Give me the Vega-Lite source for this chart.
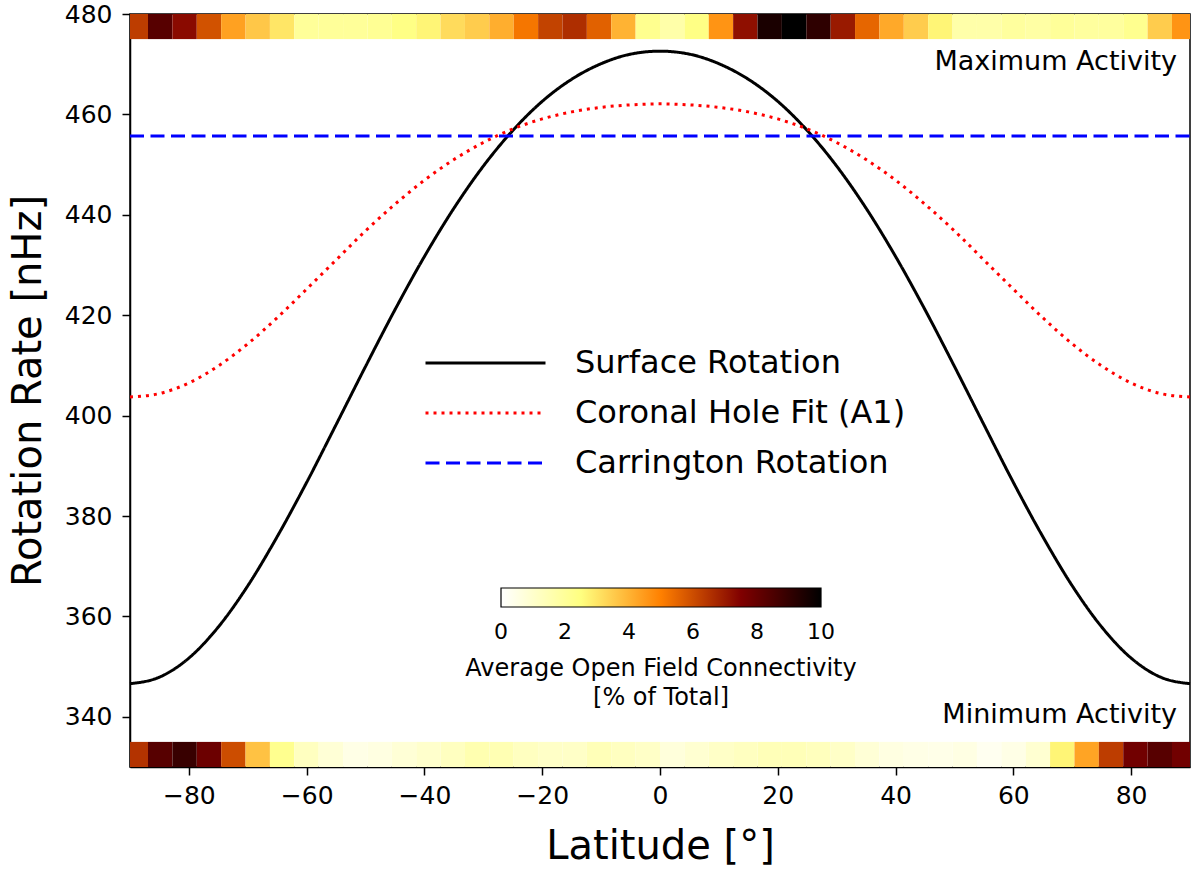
{
  "$schema": "https://vega.github.io/schema/vega-lite/v6.json",
  "description": "Solar rotation rate vs latitude with open field connectivity strips at maximum and minimum activity.",
  "width": 1060,
  "height": 753,
  "autosize": {"type": "none"},
  "padding": {"left": 130, "top": 14, "right": 10, "bottom": 103},
  "background": "white",
  "config": {
    "font": "DejaVu Sans",
    "view": {"stroke": "black", "strokeWidth": 1.5},
    "axis": {
      "grid": false,
      "domainColor": "black",
      "domainWidth": 1.5,
      "tickColor": "black",
      "tickWidth": 1.5,
      "tickSize": 8,
      "labelColor": "black",
      "labelFontSize": 25,
      "titleColor": "black",
      "titleFontSize": 40,
      "titleFontWeight": "normal"
    },
    "legend": {"labelColor": "black", "titleColor": "black"}
  },
  "datasets": {
    "strips": [
      {"activity": "max", "lat0": -90, "lat1": -86.94, "v": 6.3},
      {"activity": "max", "lat0": -86.94, "lat1": -82.8, "v": 8.3},
      {"activity": "max", "lat0": -82.8, "lat1": -78.66, "v": 7.3},
      {"activity": "max", "lat0": -78.66, "lat1": -74.52, "v": 5.9},
      {"activity": "max", "lat0": -74.52, "lat1": -70.38, "v": 4.35},
      {"activity": "max", "lat0": -70.38, "lat1": -66.24, "v": 3.6},
      {"activity": "max", "lat0": -66.24, "lat1": -62.1, "v": 3.0},
      {"activity": "max", "lat0": -62.1, "lat1": -57.96, "v": 2.0},
      {"activity": "max", "lat0": -57.96, "lat1": -53.82, "v": 2.0},
      {"activity": "max", "lat0": -53.82, "lat1": -49.68, "v": 2.0},
      {"activity": "max", "lat0": -49.68, "lat1": -45.54, "v": 2.1},
      {"activity": "max", "lat0": -45.54, "lat1": -41.4, "v": 2.4},
      {"activity": "max", "lat0": -41.4, "lat1": -37.26, "v": 2.7},
      {"activity": "max", "lat0": -37.26, "lat1": -33.12, "v": 3.2},
      {"activity": "max", "lat0": -33.12, "lat1": -28.98, "v": 3.5},
      {"activity": "max", "lat0": -28.98, "lat1": -24.84, "v": 4.1},
      {"activity": "max", "lat0": -24.84, "lat1": -20.7, "v": 5.2},
      {"activity": "max", "lat0": -20.7, "lat1": -16.56, "v": 6.2},
      {"activity": "max", "lat0": -16.56, "lat1": -12.42, "v": 6.6},
      {"activity": "max", "lat0": -12.42, "lat1": -8.28, "v": 5.6},
      {"activity": "max", "lat0": -8.28, "lat1": -4.14, "v": 4.0},
      {"activity": "max", "lat0": -4.14, "lat1": 0, "v": 2.2},
      {"activity": "max", "lat0": 0, "lat1": 4.14, "v": 1.7},
      {"activity": "max", "lat0": 4.14, "lat1": 8.28, "v": 2.4},
      {"activity": "max", "lat0": 8.28, "lat1": 12.42, "v": 4.6},
      {"activity": "max", "lat0": 12.42, "lat1": 16.56, "v": 7.2},
      {"activity": "max", "lat0": 16.56, "lat1": 20.7, "v": 9.5},
      {"activity": "max", "lat0": 20.7, "lat1": 24.84, "v": 10},
      {"activity": "max", "lat0": 24.84, "lat1": 28.98, "v": 9.1},
      {"activity": "max", "lat0": 28.98, "lat1": 33.12, "v": 7.0},
      {"activity": "max", "lat0": 33.12, "lat1": 37.26, "v": 5.5},
      {"activity": "max", "lat0": 37.26, "lat1": 41.4, "v": 4.2},
      {"activity": "max", "lat0": 41.4, "lat1": 45.54, "v": 3.5},
      {"activity": "max", "lat0": 45.54, "lat1": 49.68, "v": 2.7},
      {"activity": "max", "lat0": 49.68, "lat1": 53.82, "v": 1.7},
      {"activity": "max", "lat0": 53.82, "lat1": 57.96, "v": 1.7},
      {"activity": "max", "lat0": 57.96, "lat1": 62.1, "v": 1.9},
      {"activity": "max", "lat0": 62.1, "lat1": 66.24, "v": 1.8},
      {"activity": "max", "lat0": 66.24, "lat1": 70.38, "v": 2.0},
      {"activity": "max", "lat0": 70.38, "lat1": 74.52, "v": 1.9},
      {"activity": "max", "lat0": 74.52, "lat1": 78.66, "v": 1.9},
      {"activity": "max", "lat0": 78.66, "lat1": 82.8, "v": 2.2},
      {"activity": "max", "lat0": 82.8, "lat1": 86.94, "v": 3.5},
      {"activity": "max", "lat0": 86.94, "lat1": 90, "v": 4.6},
      {"activity": "min", "lat0": -90, "lat1": -86.94, "v": 6.5},
      {"activity": "min", "lat0": -86.94, "lat1": -82.8, "v": 8.3},
      {"activity": "min", "lat0": -82.8, "lat1": -78.66, "v": 8.9},
      {"activity": "min", "lat0": -78.66, "lat1": -74.52, "v": 7.9},
      {"activity": "min", "lat0": -74.52, "lat1": -70.38, "v": 6.0},
      {"activity": "min", "lat0": -70.38, "lat1": -66.24, "v": 3.7},
      {"activity": "min", "lat0": -66.24, "lat1": -62.1, "v": 2.2},
      {"activity": "min", "lat0": -62.1, "lat1": -57.96, "v": 1.25},
      {"activity": "min", "lat0": -57.96, "lat1": -53.82, "v": 0.8},
      {"activity": "min", "lat0": -53.82, "lat1": -49.68, "v": 0.5},
      {"activity": "min", "lat0": -49.68, "lat1": -45.54, "v": 0.6},
      {"activity": "min", "lat0": -45.54, "lat1": -41.4, "v": 0.8},
      {"activity": "min", "lat0": -41.4, "lat1": -37.26, "v": 1.0},
      {"activity": "min", "lat0": -37.26, "lat1": -33.12, "v": 1.25},
      {"activity": "min", "lat0": -33.12, "lat1": -28.98, "v": 1.55},
      {"activity": "min", "lat0": -28.98, "lat1": -24.84, "v": 1.5},
      {"activity": "min", "lat0": -24.84, "lat1": -20.7, "v": 1.25},
      {"activity": "min", "lat0": -20.7, "lat1": -16.56, "v": 1.1},
      {"activity": "min", "lat0": -16.56, "lat1": -12.42, "v": 1.1},
      {"activity": "min", "lat0": -12.42, "lat1": -8.28, "v": 1.4},
      {"activity": "min", "lat0": -8.28, "lat1": -4.14, "v": 1.25},
      {"activity": "min", "lat0": -4.14, "lat1": 0, "v": 1.1},
      {"activity": "min", "lat0": 0, "lat1": 4.14, "v": 0.7},
      {"activity": "min", "lat0": 4.14, "lat1": 8.28, "v": 0.9},
      {"activity": "min", "lat0": 8.28, "lat1": 12.42, "v": 1.1},
      {"activity": "min", "lat0": 12.42, "lat1": 16.56, "v": 1.25},
      {"activity": "min", "lat0": 16.56, "lat1": 20.7, "v": 1.4},
      {"activity": "min", "lat0": 20.7, "lat1": 24.84, "v": 1.4},
      {"activity": "min", "lat0": 24.84, "lat1": 28.98, "v": 1.3},
      {"activity": "min", "lat0": 28.98, "lat1": 33.12, "v": 1.1},
      {"activity": "min", "lat0": 33.12, "lat1": 37.26, "v": 0.8},
      {"activity": "min", "lat0": 37.26, "lat1": 41.4, "v": 0.6},
      {"activity": "min", "lat0": 41.4, "lat1": 45.54, "v": 0.5},
      {"activity": "min", "lat0": 45.54, "lat1": 49.68, "v": 0.45},
      {"activity": "min", "lat0": 49.68, "lat1": 53.82, "v": 0.55},
      {"activity": "min", "lat0": 53.82, "lat1": 57.96, "v": 0.3},
      {"activity": "min", "lat0": 57.96, "lat1": 62.1, "v": 0.5},
      {"activity": "min", "lat0": 62.1, "lat1": 66.24, "v": 0.9},
      {"activity": "min", "lat0": 66.24, "lat1": 70.38, "v": 2.7},
      {"activity": "min", "lat0": 70.38, "lat1": 74.52, "v": 4.3},
      {"activity": "min", "lat0": 74.52, "lat1": 78.66, "v": 6.3},
      {"activity": "min", "lat0": 78.66, "lat1": 82.8, "v": 7.8},
      {"activity": "min", "lat0": 82.8, "lat1": 86.94, "v": 8.3},
      {"activity": "min", "lat0": 86.94, "lat1": 90, "v": 7.8}
    ],
    "curves": [
      {"series": "Surface Rotation", "lat": -90, "rate": 346.6},
      {"series": "Surface Rotation", "lat": -85, "rate": 347.9},
      {"series": "Surface Rotation", "lat": -80, "rate": 351.7},
      {"series": "Surface Rotation", "lat": -75, "rate": 357.9},
      {"series": "Surface Rotation", "lat": -70, "rate": 366.1},
      {"series": "Surface Rotation", "lat": -65, "rate": 375.9},
      {"series": "Surface Rotation", "lat": -60, "rate": 386.7},
      {"series": "Surface Rotation", "lat": -55, "rate": 398.2},
      {"series": "Surface Rotation", "lat": -50, "rate": 409.8},
      {"series": "Surface Rotation", "lat": -45, "rate": 421.1},
      {"series": "Surface Rotation", "lat": -40, "rate": 431.7},
      {"series": "Surface Rotation", "lat": -35, "rate": 441.3},
      {"series": "Surface Rotation", "lat": -30, "rate": 449.7},
      {"series": "Surface Rotation", "lat": -25, "rate": 456.8},
      {"series": "Surface Rotation", "lat": -20, "rate": 462.6},
      {"series": "Surface Rotation", "lat": -15, "rate": 467.0},
      {"series": "Surface Rotation", "lat": -10, "rate": 470.1},
      {"series": "Surface Rotation", "lat": -5, "rate": 472.0},
      {"series": "Surface Rotation", "lat": 0, "rate": 472.6},
      {"series": "Surface Rotation", "lat": 5, "rate": 472.0},
      {"series": "Surface Rotation", "lat": 10, "rate": 470.1},
      {"series": "Surface Rotation", "lat": 15, "rate": 467.0},
      {"series": "Surface Rotation", "lat": 20, "rate": 462.6},
      {"series": "Surface Rotation", "lat": 25, "rate": 456.8},
      {"series": "Surface Rotation", "lat": 30, "rate": 449.7},
      {"series": "Surface Rotation", "lat": 35, "rate": 441.3},
      {"series": "Surface Rotation", "lat": 40, "rate": 431.7},
      {"series": "Surface Rotation", "lat": 45, "rate": 421.1},
      {"series": "Surface Rotation", "lat": 50, "rate": 409.8},
      {"series": "Surface Rotation", "lat": 55, "rate": 398.2},
      {"series": "Surface Rotation", "lat": 60, "rate": 386.7},
      {"series": "Surface Rotation", "lat": 65, "rate": 375.9},
      {"series": "Surface Rotation", "lat": 70, "rate": 366.1},
      {"series": "Surface Rotation", "lat": 75, "rate": 357.9},
      {"series": "Surface Rotation", "lat": 80, "rate": 351.7},
      {"series": "Surface Rotation", "lat": 85, "rate": 347.9},
      {"series": "Surface Rotation", "lat": 90, "rate": 346.6},
      {"series": "Coronal Hole Fit (A1)", "lat": -90, "rate": 403.7},
      {"series": "Coronal Hole Fit (A1)", "lat": -85, "rate": 404.4},
      {"series": "Coronal Hole Fit (A1)", "lat": -80, "rate": 406.5},
      {"series": "Coronal Hole Fit (A1)", "lat": -75, "rate": 409.9},
      {"series": "Coronal Hole Fit (A1)", "lat": -70, "rate": 414.3},
      {"series": "Coronal Hole Fit (A1)", "lat": -65, "rate": 419.5},
      {"series": "Coronal Hole Fit (A1)", "lat": -60, "rate": 425.2},
      {"series": "Coronal Hole Fit (A1)", "lat": -55, "rate": 431.0},
      {"series": "Coronal Hole Fit (A1)", "lat": -50, "rate": 436.8},
      {"series": "Coronal Hole Fit (A1)", "lat": -45, "rate": 442.1},
      {"series": "Coronal Hole Fit (A1)", "lat": -40, "rate": 446.9},
      {"series": "Coronal Hole Fit (A1)", "lat": -35, "rate": 451.0},
      {"series": "Coronal Hole Fit (A1)", "lat": -30, "rate": 454.4},
      {"series": "Coronal Hole Fit (A1)", "lat": -25, "rate": 457.1},
      {"series": "Coronal Hole Fit (A1)", "lat": -20, "rate": 459.1},
      {"series": "Coronal Hole Fit (A1)", "lat": -15, "rate": 460.5},
      {"series": "Coronal Hole Fit (A1)", "lat": -10, "rate": 461.4},
      {"series": "Coronal Hole Fit (A1)", "lat": -5, "rate": 461.9},
      {"series": "Coronal Hole Fit (A1)", "lat": 0, "rate": 462.1},
      {"series": "Coronal Hole Fit (A1)", "lat": 5, "rate": 461.9},
      {"series": "Coronal Hole Fit (A1)", "lat": 10, "rate": 461.4},
      {"series": "Coronal Hole Fit (A1)", "lat": 15, "rate": 460.5},
      {"series": "Coronal Hole Fit (A1)", "lat": 20, "rate": 459.1},
      {"series": "Coronal Hole Fit (A1)", "lat": 25, "rate": 457.1},
      {"series": "Coronal Hole Fit (A1)", "lat": 30, "rate": 454.4},
      {"series": "Coronal Hole Fit (A1)", "lat": 35, "rate": 451.0},
      {"series": "Coronal Hole Fit (A1)", "lat": 40, "rate": 446.9},
      {"series": "Coronal Hole Fit (A1)", "lat": 45, "rate": 442.1},
      {"series": "Coronal Hole Fit (A1)", "lat": 50, "rate": 436.8},
      {"series": "Coronal Hole Fit (A1)", "lat": 55, "rate": 431.0},
      {"series": "Coronal Hole Fit (A1)", "lat": 60, "rate": 425.2},
      {"series": "Coronal Hole Fit (A1)", "lat": 65, "rate": 419.5},
      {"series": "Coronal Hole Fit (A1)", "lat": 70, "rate": 414.3},
      {"series": "Coronal Hole Fit (A1)", "lat": 75, "rate": 409.9},
      {"series": "Coronal Hole Fit (A1)", "lat": 80, "rate": 406.5},
      {"series": "Coronal Hole Fit (A1)", "lat": 85, "rate": 404.4},
      {"series": "Coronal Hole Fit (A1)", "lat": 90, "rate": 403.7},
      {"series": "Carrington Rotation", "lat": -90, "rate": 455.7},
      {"series": "Carrington Rotation", "lat": 90, "rate": 455.7}
    ],
    "notes": [
      {"label": "Maximum Activity", "lat": 87.8, "rate": 470.4},
      {"label": "Minimum Activity", "lat": 87.8, "rate": 340.3}
    ]
  },
  "encoding": {
    "x": {
      "type": "quantitative",
      "scale": {"domain": [-90, 90], "nice": false, "zero": false},
      "axis": {
        "title": "Latitude [°]",
        "values": [-80, -60, -40, -20, 0, 20, 40, 60, 80],
        "labelPadding": 8,
        "titlePadding": 18
      }
    },
    "y": {
      "type": "quantitative",
      "scale": {"domain": [330, 480], "nice": false, "zero": false},
      "axis": {
        "title": "Rotation Rate [nHz]",
        "values": [340, 360, 380, 400, 420, 440, 460, 480],
        "labelPadding": 10,
        "titlePadding": 16
      }
    }
  },
  "layer": [
    {
      "data": {"name": "strips"},
      "transform": [{"filter": "datum.activity == 'max'"}],
      "mark": {"type": "rect", "strokeWidth": 0},
      "encoding": {
        "x": {"field": "lat0", "type": "quantitative"},
        "x2": {"field": "lat1"},
        "y": {"datum": 475},
        "y2": {"datum": 480},
        "fill": {
          "field": "v",
          "type": "quantitative",
          "scale": {
            "domain": [0, 2.5, 5, 7.5, 10],
            "range": ["#ffffff", "#ffff80", "#ff8000", "#800000", "#000000"],
            "interpolate": "rgb"
          },
          "legend": {
            "orient": "none",
            "legendX": 335,
            "legendY": 574,
            "direction": "horizontal",
            "gradientLength": 320,
            "gradientThickness": 19,
            "gradientStrokeColor": "black",
            "gradientStrokeWidth": 1.2,
            "values": [0, 2, 4, 6, 8, 10],
            "labelOverlap": false,
            "labelFontSize": 22,
            "labelOffset": 15,
            "title": ["Average Open Field Connectivity", "[% of Total]"],
            "titleOrient": "bottom",
            "titleAnchor": "middle",
            "titleAlign": "center",
            "titleFontSize": 24,
            "titleFontWeight": "normal",
            "titleLineHeight": 29,
            "titlePadding": 14,
            "titleLimit": 800,
            "padding": 0,
            "encode": {
              "labels": {"update": {"align": {"value": "center"}}}
            }
          }
        }
      }
    },
    {
      "data": {"name": "strips"},
      "transform": [{"filter": "datum.activity == 'min'"}],
      "mark": {"type": "rect", "strokeWidth": 0},
      "encoding": {
        "x": {"field": "lat0", "type": "quantitative"},
        "x2": {"field": "lat1"},
        "y": {"datum": 330},
        "y2": {"datum": 335},
        "fill": {"field": "v", "type": "quantitative"}
      }
    },
    {
      "data": {"name": "curves"},
      "mark": {"type": "line", "interpolate": "monotone", "strokeCap": "butt"},
      "encoding": {
        "x": {"field": "lat", "type": "quantitative"},
        "y": {"field": "rate", "type": "quantitative"},
        "detail": {"field": "series"},
        "stroke": {
          "field": "series",
          "type": "nominal",
          "scale": {
            "domain": ["Surface Rotation", "Coronal Hole Fit (A1)", "Carrington Rotation"],
            "range": ["#000000", "#ff0000", "#0000ff"]
          },
          "legend": {
            "orient": "none",
            "legendX": 294,
            "legendY": 333,
            "title": null,
            "symbolType": "stroke",
            "symbolSize": 14400,
            "symbolStrokeWidth": 2.5,
            "clipHeight": 32,
            "rowPadding": 18,
            "labelOffset": 28,
            "labelFontSize": 32,
            "labelLimit": 800,
            "padding": 0
          }
        },
        "strokeDash": {
          "field": "series",
          "type": "nominal",
          "scale": {
            "domain": ["Surface Rotation", "Coronal Hole Fit (A1)", "Carrington Rotation"],
            "range": [[1, 0], [3, 5], [14, 6.5]]
          }
        },
        "strokeWidth": {
          "field": "series",
          "type": "nominal",
          "scale": {
            "domain": ["Surface Rotation", "Coronal Hole Fit (A1)", "Carrington Rotation"],
            "range": [3, 3, 3.5]
          },
          "legend": null
        }
      }
    },
    {
      "data": {"name": "notes"},
      "mark": {"type": "text", "align": "right", "baseline": "middle", "fontSize": 27, "color": "black"},
      "encoding": {
        "x": {"field": "lat", "type": "quantitative"},
        "y": {"field": "rate", "type": "quantitative"},
        "text": {"field": "label"}
      }
    }
  ]
}
